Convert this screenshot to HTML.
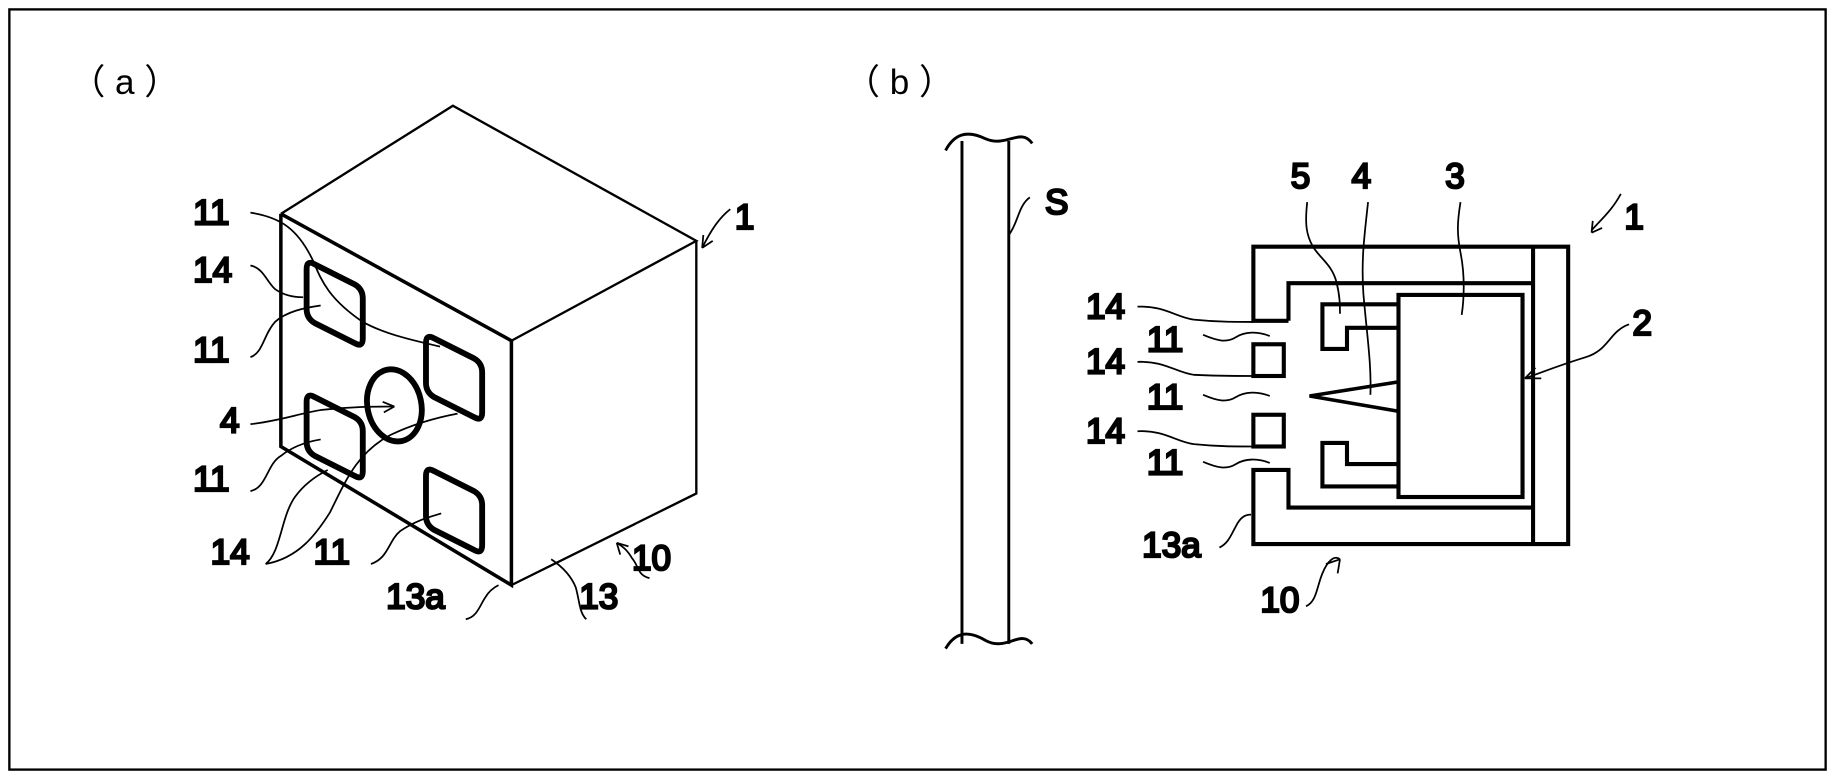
<!DOCTYPE html>
<html><head><meta charset="utf-8"><style>
html,body{margin:0;padding:0;background:#fff}
svg{display:block}
text{font-family:"Liberation Sans",sans-serif;font-size:30px;font-weight:normal;fill:#000}
</style></head><body>
<svg width="1835" height="779" viewBox="0 0 1568 663" preserveAspectRatio="none" xmlns="http://www.w3.org/2000/svg">
<rect x="8" y="8" width="1552" height="647" fill="none" stroke="#000" stroke-width="2"/>
<text x="60" y="80" font-size="34">（ a ）</text>
<text x="722" y="80" font-size="34">（ b ）</text>
<g fill="none" stroke="#000" stroke-width="2">
<!-- cube -->
<path d="M240,182 L387,90 L595,205 L437,290"/>
<path d="M240,182 L240,380 L437,498 L437,290" stroke-width="3"/>
<path d="M240,182 L437,290" stroke-width="3"/>
<path d="M437,498 L595,420 L595,205"/>
<!-- holes -->
<g stroke-width="5" stroke-linejoin="round">
<path d="M262,229 Q262,221 269,225 L303,242 Q310,246 310,254 L310,288 Q310,296 303,292 L269,275 Q262,271 262,263 Z"/>
<path d="M364,292 Q364,284 371,288 L405,305 Q412,309 412,317 L412,351 Q412,359 405,355 L371,338 Q364,334 364,326 Z"/>
<path d="M262,342 Q262,334 269,338 L303,355 Q310,359 310,367 L310,401 Q310,409 303,405 L269,388 Q262,384 262,376 Z"/>
<path d="M364,405 Q364,397 371,401 L405,418 Q412,422 412,430 L412,464 Q412,472 405,468 L371,451 Q364,447 364,439 Z"/>
<ellipse cx="337" cy="345" rx="23" ry="31" transform="rotate(-12 337 345)"/>
</g>
<!-- leaders a -->
<g stroke-width="1.5">
<path d="M214,181 C240,185 255,195 268,223 C275,240 282,255 310,274 C330,285 355,290 376,295"/>
<path d="M214,226 C225,228 228,240 235,246 C242,251 250,253 259,253"/>
<path d="M214,304 C225,300 225,285 235,274 C245,265 260,262 274,260"/>
<path d="M214,361 C240,358 255,352 274,349 C300,346 320,346 337,346"/>
<path d="M337,346 l-10,-4 M337,346 l-9,5"/>
<path d="M214,418 C228,415 228,395 240,388 C250,380 262,376 274,374"/>
<path d="M227,480 C240,470 240,440 252,423 C260,412 270,405 280,400"/>
<path d="M227,480 C255,475 270,455 282,436 C295,410 305,385 334,370 C355,360 375,355 391,352"/>
<path d="M317,480 C332,475 332,460 342,452 C355,443 367,440 377,437"/>
<path d="M398,527 C408,525 410,515 415,508 C418,503 422,500 426,498"/>
<path d="M501,527 C495,522 495,510 492,500 C488,490 480,482 471,476"/>
<path d="M555,492 C545,490 546,482 540,475 C536,468 532,465 527,462"/>
<path d="M527,462 l10,3 M527,462 l3,10"/>
<path d="M624,178 C615,185 608,195 600,211"/>
<path d="M600,211 l1,-11 M600,211 l9,-6"/>
<!-- strip S -->
<path d="M822,120 L822,548 M862,120 L862,548" stroke-width="2.5"/>
<path d="M808,128 C815,115 825,110 842,118 C860,126 872,108 882,122" stroke-width="2.5"/>
<path d="M808,552 C815,540 825,535 842,545 C860,555 872,535 882,548" stroke-width="2.5"/>
<path d="M862,200 C870,190 870,175 880,168"/>
<!-- part b -->
<g stroke-width="3.5">
<path d="M1101,273 L1071,273 L1071,210 L1340,210 L1340,463 L1071,463 L1071,400 L1101,400 L1101,432 L1310,432"/>
<path d="M1101,273 L1101,241 L1310,241"/>
<path d="M1310,210 L1310,463"/>
<rect x="1071" y="293" width="26" height="27"/>
<rect x="1071" y="353" width="26" height="27"/>
<rect x="1195" y="251" width="106" height="172"/>
<path d="M1195,259 L1130,259 L1130,297 L1151,297 L1151,279 L1195,279"/>
<path d="M1195,395 L1151,395 L1151,377 L1130,377 L1130,414 L1195,414"/>
<path d="M1195,325 L1119,337 L1195,350" stroke-width="3"/>
</g>
<g stroke-width="1.5">
<path d="M972,261 C995,260 1005,270 1020,272 C1040,274 1055,274 1071,274"/>
<path d="M972,308 C995,307 1005,317 1020,319 C1040,320 1055,320 1071,320"/>
<path d="M972,367 C995,366 1005,376 1020,378 C1040,380 1055,380 1071,380"/>
<path d="M1028,285 C1040,290 1048,292 1056,287 C1064,282 1075,282 1085,286"/>
<path d="M1028,336 C1040,341 1048,343 1056,338 C1064,333 1075,333 1085,337"/>
<path d="M1028,393 C1040,398 1048,400 1056,395 C1064,390 1075,390 1085,394"/>
<path d="M1117,172 C1115,190 1116,200 1122,210 C1128,220 1138,225 1142,240 C1145,252 1145,260 1145,267"/>
<path d="M1169,172 C1166,200 1163,220 1165,250 C1168,285 1172,310 1171,336"/>
<path d="M1248,172 C1245,190 1245,200 1248,215 C1252,235 1251,255 1249,268"/>
<path d="M1303,322 C1320,316 1335,310 1355,304 C1375,298 1375,282 1392,276"/>
<path d="M1303,322 l14,0 M1303,322 l9,-9"/>
<path d="M1385,165 C1378,178 1370,185 1360,196"/>
<path d="M1360,198 l1,-10 M1360,198 l9,-4"/>
<path d="M1042,466 C1050,462 1052,455 1056,448 C1060,440 1064,438 1069,438"/>
<path d="M1116,516 C1125,512 1125,500 1130,488 C1134,478 1140,472 1145,476"/>
<path d="M1145,476 l-12,4 M1145,476 l-2,12"/>
</g>
</g>
<!-- labels a -->
<text x="165" y="191">11</text>
<text x="165" y="240">14</text>
<text x="165" y="308">11</text>
<text x="188" y="368">4</text>
<text x="165" y="418">11</text>
<text x="180" y="480">14</text>
<text x="268" y="480">11</text>
<text x="330" y="518">13a</text>
<text x="495" y="518">13</text>
<text x="540" y="485">10</text>
<text x="628" y="195">1</text>
<!-- labels b -->
<text x="893" y="182">S</text>
<text x="1103" y="160">5</text>
<text x="1155" y="160">4</text>
<text x="1235" y="160">3</text>
<text x="1388" y="195">1</text>
<text x="1395" y="285">2</text>
<text x="928" y="271">14</text>
<text x="980" y="299">11</text>
<text x="928" y="318">14</text>
<text x="980" y="348">11</text>
<text x="928" y="377">14</text>
<text x="980" y="404">11</text>
<text x="976" y="474">13a</text>
<text x="1077" y="521">10</text>
</svg>
</body></html>
